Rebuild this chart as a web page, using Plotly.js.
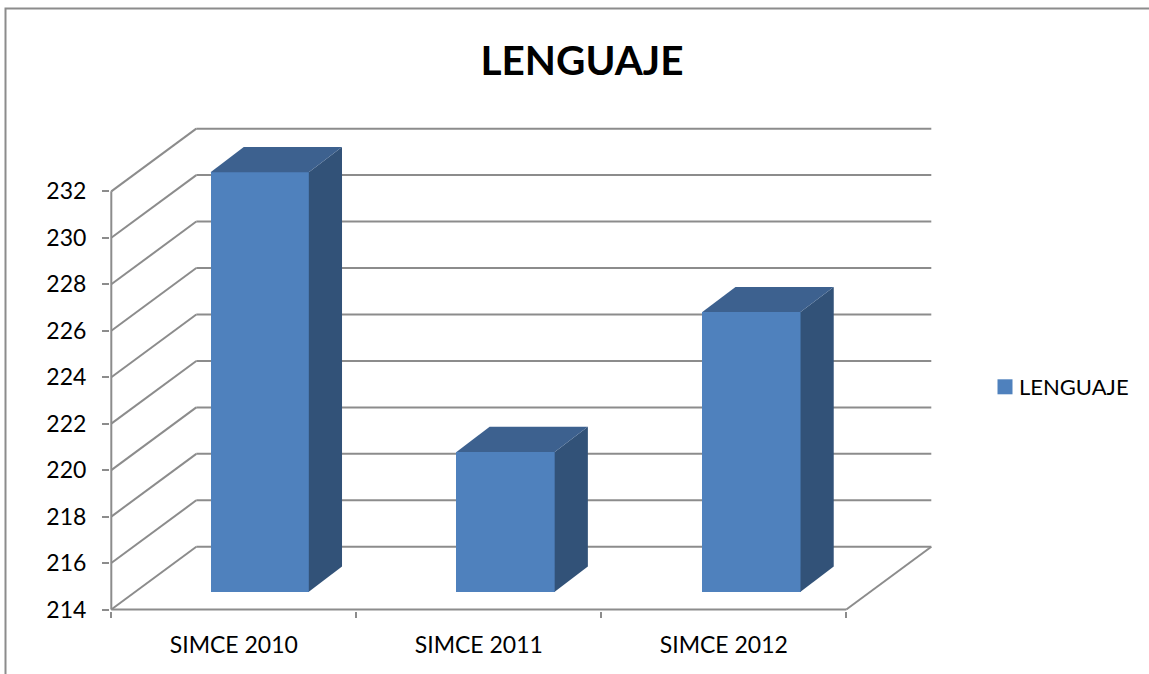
<!DOCTYPE html>
<html>
<head>
<meta charset="utf-8">
<script src="https://cdn.plot.ly/plotly-3.0.1.min.js"></script>
<style>html,body{margin:0;padding:0;background:#fff;overflow:hidden}</style>
</head>
<body>
<div id="chart" style="width:1149px;height:674px"></div>
<script>
const categories = ['SIMCE 2010', 'SIMCE 2011', 'SIMCE 2012'];
const values = [232, 220, 226];
const yTicks = [214, 216, 218, 220, 222, 224, 226, 228, 230, 232];
const seriesName = 'LENGUAJE';

const W = 1149, H = 674;
const M = {l: 110, r: 216, t: 126, b: 63};
const plotW = W - M.l - M.r, plotH = H - M.t - M.b;
const XPX = 245, YPX = 23.23;       // pixels per category / per value unit
const yMin = 214, yMax = 232;
const nCat = categories.length;
const DX = 85 / XPX, DY = 2.7;      // wall depth in data units
const xStart = -1.3 / XPX, yStart = yMin - 1.5 / YPX;
const xEnd = xStart + plotW / XPX, yEnd = yStart + plotH / YPX;

// bar placement on the floor, in data units
const BAR_C0 = 0.6057, BAR_STEP = 1.0035, BW = 0.401;
const BAR_BASE = yMin + 0.766, BAR_SCALE = 1.003;
const BAR_DX = 0.1355, BAR_DY = 1.085;

const AXIS = '#8c8c8c', FRONT = '#4f81bd', SIDE = '#325278', TOP = '#3d618f';
const FONT = 'Lato, Carlito, Calibri, sans-serif';

const px = (x) => (x - M.l) / plotW;
const py = (y) => 1 - (y - M.t) / plotH;

const line = (x0, y0, x1, y1) => ({
  type: 'line', xref: 'x', yref: 'y', layer: 'below',
  x0, y0, x1, y1, line: {color: AXIS, width: 2}
});

const shapes = [];
yTicks.forEach((v) => {
  shapes.push(line(0, v, DX, v + DY));
  shapes.push(line(DX, v + DY, nCat + DX, v + DY));
});
shapes.push(line(0, yMin, 0, yMax));
shapes.push(line(0, yMin, nCat, yMin));
shapes.push(line(nCat, yMin, nCat + DX, yMin + DY));
shapes.push({
  type: 'path', xref: 'paper', yref: 'paper', layer: 'below',
  path: `M ${px(5.5)} ${py(H + 5)} L ${px(5.5)} ${py(8.5)} L ${px(W + 5)} ${py(8.5)}`,
  line: {color: AXIS, width: 2}
});

const centers = categories.map((_, i) => BAR_C0 + i * BAR_STEP);
const tops = values.map((v) => BAR_BASE + (v - yMin) * BAR_SCALE);

const traces = [{
  type: 'bar',
  x: centers,
  y: tops.map((t) => t - BAR_BASE),
  base: BAR_BASE,
  width: BW,
  marker: {color: FRONT, line: {width: 0}},
  showlegend: false,
  hoverinfo: 'skip'
}];

values.forEach((v, i) => {
  const l = centers[i] - BW / 2, r = centers[i] + BW / 2, t = tops[i];
  traces.push({
    type: 'scatter', mode: 'lines', fill: 'toself', fillcolor: SIDE,
    line: {width: 0, color: SIDE}, showlegend: false, hoverinfo: 'skip',
    x: [r, r + BAR_DX, r + BAR_DX, r, r],
    y: [BAR_BASE, BAR_BASE + BAR_DY, t + BAR_DY, t, BAR_BASE]
  });
  traces.push({
    type: 'scatter', mode: 'lines', fill: 'toself', fillcolor: TOP,
    line: {width: 0, color: TOP}, showlegend: false, hoverinfo: 'skip',
    x: [l, r, r + BAR_DX, l + BAR_DX, l],
    y: [t, t, t + BAR_DY, t + BAR_DY, t]
  });
});
traces.push({
  type: 'scatter', mode: 'markers', name: seriesName,
  x: [null], y: [null],
  marker: {symbol: 'square', size: 15, color: FRONT},
  showlegend: true, hoverinfo: 'skip'
});

const layout = {
  width: W, height: H,
  margin: {l: M.l, r: M.r, t: M.t, b: M.b, pad: 0, autoexpand: false},
  paper_bgcolor: '#fff', plot_bgcolor: '#fff',
  font: {family: FONT, color: '#000'},
  title: {
    text: '<b>' + seriesName + '</b>',
    font: {family: FONT, size: 40.5, color: '#000'},
    x: 582 / W, xanchor: 'center', y: 1 - 60.5 / H, yanchor: 'middle'
  },
  xaxis: {
    range: [xStart, xEnd], showgrid: false, zeroline: false, showline: false,
    tickmode: 'array',
    tickvals: categories.map((_, i) => i + 0.5),
    ticktext: categories,
    ticks: 'outside', ticklen: 13, tickcolor: 'rgba(0,0,0,0)',
    tickfont: {family: FONT, size: 23, color: '#000'},
    minor: {
      tickmode: 'array', tickvals: [0, 1, 2, 3],
      ticks: 'outside', ticklen: 6, tickwidth: 2, tickcolor: AXIS, showgrid: false
    }
  },
  yaxis: {
    range: [yStart, yEnd], showgrid: false, zeroline: false, showline: false,
    tickmode: 'array', tickvals: yTicks,
    ticktext: yTicks.map(String),
    ticks: 'outside', ticklen: 7, tickwidth: 2, tickcolor: AXIS,
    ticklabelstandoff: 11,
    tickfont: {family: FONT, size: 23, color: '#000'}
  },
  legend: {
    x: px(985), xanchor: 'left', y: py(387), yanchor: 'middle',
    bgcolor: 'rgba(0,0,0,0)', borderwidth: 0,
    font: {family: FONT, size: 22, color: '#000'}
  },
  shapes,
  bargap: 0
};

Plotly.newPlot('chart', traces, layout, {staticPlot: true, displayModeBar: false}).then((gd) => {
  gd.querySelectorAll('.legendtext').forEach((t) => {
    t.setAttribute('x', parseFloat(t.getAttribute('x')) - 6);
  });
});
</script>
</body>
</html>
